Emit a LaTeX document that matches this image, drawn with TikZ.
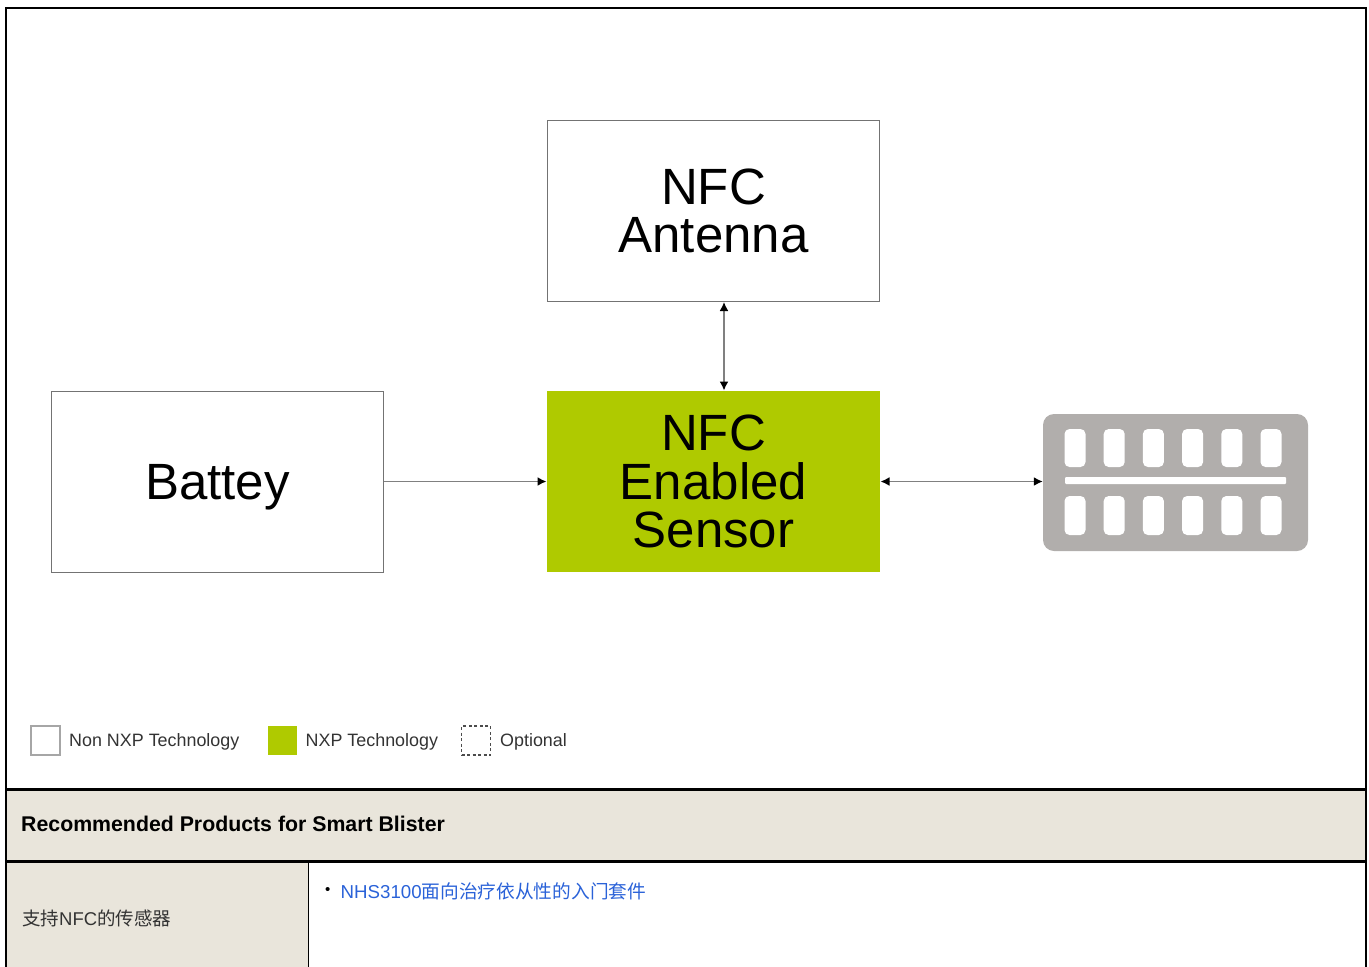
\documentclass[tikz,border=0pt]{standalone}
\usepackage{fontspec}
\setmainfont{Liberation Sans}
\newfontfamily\cjk{Noto Sans CJK SC}
\usetikzlibrary{arrows.meta}
\definecolor{nxpgreen}{HTML}{AFCA00}
\definecolor{blistergray}{HTML}{B1AEAC}
\definecolor{bandtan}{HTML}{E9E5DB}
\definecolor{linkblue}{HTML}{2A62D8}
\tikzset{
	block/.style={draw=black!55,line width=1pt,minimum width=332pt,minimum height=181pt,inner sep=0pt,align=center,font=\fontsize{51}{48.5}\selectfont},
	legendbox/.style={minimum width=29pt,minimum height=29pt,inner sep=0pt},
	legendtext/.style={anchor=west,inner sep=0pt,text=black!80,font=\fontsize{17.9}{22}\selectfont},
	pocket/.style={fill=white,rounded corners=5pt},
	rule/.style={line width=#1,black},
	link/.style={draw=black!50,line width=1.6pt,{Latex[length=9pt,width=9pt,black]}-{Latex[length=9pt,width=9pt,black]}}
}
\begin{document}
\begin{tikzpicture}[x=1pt,y=-1pt]
	\useasboundingbox (0,0) rectangle (1369,967);
	\node[block] (antenna) at (713.5,211) {NFC\\Antenna};
	\node[block,draw=none,fill=nxpgreen,minimum width=333pt] (sensor) at (713.5,481.5) {NFC\\Enabled\\Sensor};
	\node[block] (battery) at (217.5,481.5) {\rule{0pt}{47pt}Battey};
	\node[fill=blistergray,rounded corners=11pt,minimum width=265pt,minimum height=137pt,inner sep=0pt] (blister) at (1175.5,482.5) {};
	\foreach \col in {0,...,5}{
		\fill[pocket] (1064.5+39.2*\col,429) rectangle (1085.5+39.2*\col,467);
		\fill[pocket] (1064.5+39.2*\col,496) rectangle (1085.5+39.2*\col,535);
	}
	\fill[white,rounded corners=1pt] (1065,477) rectangle (1286,484);
	\draw[link] ([xshift=10.5pt]antenna.south) -- ([xshift=10.5pt]sensor.north);
	\draw[draw=black!50,line width=1.6pt,-{Latex[length=9pt,width=9pt,black]}] (battery.east) -- (sensor.west);
	\draw[link] (sensor.east) -- (blister.west |- sensor.east);
	\node[legendbox,draw=black!35,line width=1.5pt] (keynon) at (45.5,740.5) {};
	\node[legendtext] (keynontext) at (69,741.5) {Non NXP Technology};
	\node[legendbox,fill=nxpgreen] (keynxp) at (282,740.5) {};
	\node[legendtext] (keynxptext) at (305.5,741.5) {NXP Technology};
	\node[legendbox,draw=black!70,line width=1.2pt,dash pattern=on 3pt off 2.5pt] (keyopt) at (476,740.5) {};
	\node[legendtext] (keyopttext) at (500,741.5) {Optional};
	\fill[bandtan] (7,790) rectangle (1366,860);
	\fill[bandtan] (7,862) rectangle (308,967);
	\draw[rule=2.5pt] (6,967) -- (6,8) -- (1366,8) -- (1366,967);
	\draw[rule=2.5pt] (6,789.5) -- (1366,789.5);
	\draw[rule=3.5pt] (6,861.5) -- (1366,861.5);
	\draw[rule=1.5pt] (308.5,862) -- (308.5,967);
	\node[anchor=west,inner sep=0pt,font=\bfseries\fontsize{21.3}{25}\selectfont] (bandtitle) at (21,823.5) {Recommended Products for Smart Blister};
	\node[anchor=west,inner sep=0pt,text=black!80,font=\fontsize{18.5}{22}\selectfont] (sensorcell) at (22,918) {{\cjk 支持}NFC{\cjk 的传感器}};
	\node[anchor=west,inner sep=0pt,font=\fontsize{15}{22}\selectfont] (itemdot) at (325,890.5) {•};
	\node[anchor=west,inner sep=0pt,text=linkblue,font=\fontsize{18.7}{22}\selectfont] (itemlink) at (340.5,891) {NHS3100{\cjk 面向治疗依从性的入门套件}};
\end{tikzpicture}
\end{document}
